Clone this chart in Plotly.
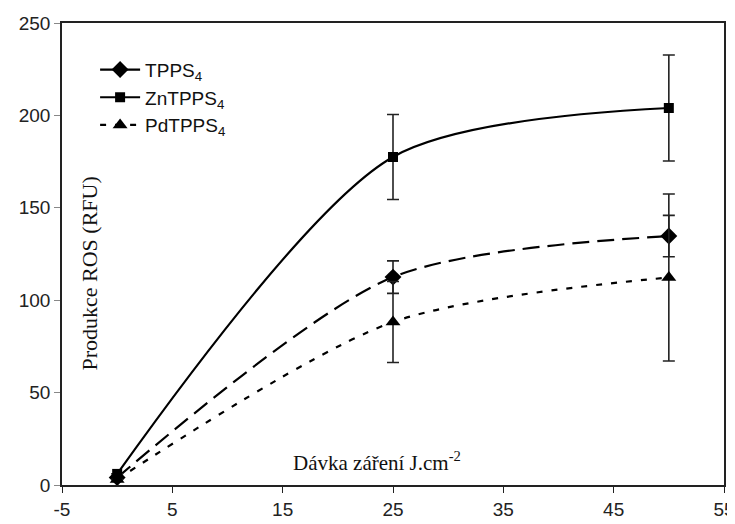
import plotly.graph_objects as go

dose = [0, 25, 50]
tpps4 = [4, 112.5, 134.7]
tpps4_err = [0, 8.8, 11.2]
zntpps4 = [6, 177.5, 204]
zntpps4_err = [0, 23, 28.7]
pdtpps4 = [3, 88.2, 112.3]
pdtpps4_err = [0, 21.9, 45.2]
x_ticks = [-5, 5, 15, 25, 35, 45, 55]
x_ticktext = ["-5", "5", "15", "25", "35", "45", "55"]

series = [
    ("TPPS<sub>4</sub>", tpps4, tpps4_err, "diamond", 13, "17px,8px"),
    ("ZnTPPS<sub>4</sub>", zntpps4, zntpps4_err, "square", 10, "solid"),
    ("PdTPPS<sub>4</sub>", pdtpps4, pdtpps4_err, "triangle-up", 13, "6px,9px"),
]

fig = go.Figure()
for name, ys, err, sym, size, dash in series:
    fig.add_trace(go.Scatter(
        x=dose, y=ys, name=name, mode="lines+markers",
        line=dict(color="black", width=2.2, dash=dash, shape="spline", smoothing=0.8),
        marker=dict(symbol=sym, size=size, color="black"),
        error_y=dict(type="data", array=err, visible=True, color="#222", thickness=1.6, width=6),
    ))

# page body has an 8px margin, so the figure is sized to fit the 735x524 window
fig.update_layout(
    width=727, height=516,
    margin=dict(l=54, r=11, t=15, b=39, autoexpand=False),
    paper_bgcolor="white", plot_bgcolor="white",
    showlegend=True,
    legend=dict(x=0.05, y=0.94, xanchor="left", yanchor="top",
                font=dict(family="Liberation Sans, Arial", size=19, color="#111"),
                bgcolor="rgba(0,0,0,0)", tracegroupgap=2, itemwidth=40),
    font=dict(family="Liberation Sans, Arial", size=19, color="#222"),
)
fig.update_xaxes(range=[-5, 55], tickvals=x_ticks, ticktext=x_ticktext,
                 showgrid=False, zeroline=False, automargin=False,
                 showline=True, linecolor="#222", linewidth=1.5, mirror=True,
                 ticks="outside", ticklen=6, tickcolor="#222",
                 tickfont=dict(family="Liberation Sans, Arial", size=19, color="#222"))
fig.update_yaxes(range=[0, 250], dtick=50, showgrid=False, zeroline=False, automargin=False,
                 showline=True, linecolor="#222", linewidth=1.5, mirror=True,
                 ticks="outside", ticklen=6, tickcolor="#888",
                 tickfont=dict(family="Liberation Sans, Arial", size=19, color="#222"))

fig.add_annotation(text="Produkce ROS (RFU)", xref="paper", yref="paper",
                   x=0.041, y=0.458, xanchor="center", yanchor="middle",
                   textangle=-90, showarrow=False,
                   font=dict(family="Liberation Serif, Times New Roman", size=22, color="#111"))
fig.add_annotation(text="Dávka záření J.cm<sup>-2</sup>", xref="paper", yref="paper",
                   x=0.476, y=0.05, xanchor="center", yanchor="middle", showarrow=False,
                   font=dict(family="Liberation Serif, Times New Roman", size=21, color="#111"))

fig.write_html("out.html")
